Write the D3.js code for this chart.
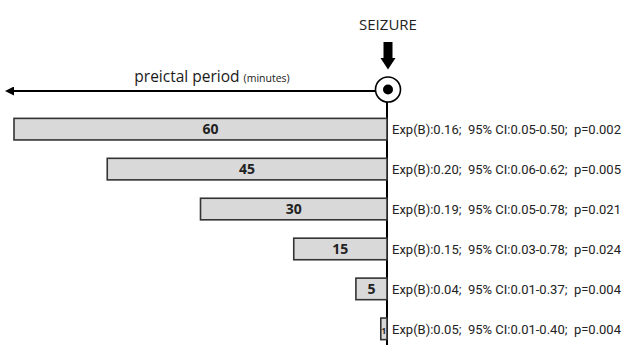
<!DOCTYPE html>
<html><head><meta charset="utf-8">
<script src="https://cdn.jsdelivr.net/npm/d3@7"></script>
<style>body{margin:0;background:#fff}svg{display:block}</style>
</head><body>
<svg id="c" width="625" height="345"></svg>
<script>
const periods = [60, 45, 30, 15, 5, 1];
const expB = ["0.16", "0.20", "0.19", "0.15", "0.04", "0.05"];
const ciLow = ["0.05", "0.06", "0.05", "0.03", "0.01", "0.01"];
const ciHigh = ["0.50", "0.62", "0.78", "0.78", "0.37", "0.40"];
const pVals = ["0.002", "0.005", "0.021", "0.024", "0.004", "0.004"];

const svg = d3.select("#c");
const x0 = 387;
const x = d3.scaleLinear().domain([0, 60]).range([x0, 14]);
const y = d3.scaleBand().domain(periods.map(String)).range([110, 348]).paddingInner(0.46).paddingOuter(0.21);

svg.append("defs").append("marker").attr("id","ah").attr("viewBox","0 0 10 10")
  .attr("refX",0).attr("refY",5).attr("markerWidth",5).attr("markerHeight",5).attr("orient","auto-start-reverse")
  .append("path").attr("d","M0,0L10,5L0,10z").attr("fill","#000");

svg.append("line").attr("x1",x0).attr("x2",14).attr("y1",91).attr("y2",91)
  .attr("stroke","#000").attr("stroke-width",1.8).attr("marker-end","url(#ah)");
const t = svg.append("text").attr("x",212).attr("y",82).attr("text-anchor","middle")
  .attr("font-family","Open Sans, sans-serif").attr("fill","#1a1a1a");
t.append("tspan").attr("font-size",15.5).text("preictal period ");
t.append("tspan").attr("font-size",10.5).text("(minutes)");

svg.append("line").attr("x1",x0).attr("x2",x0).attr("y1",90).attr("y2",345)
  .attr("stroke","#000").attr("stroke-width",2);

const g = svg.append("g");
g.selectAll("rect").data(periods).join("rect")
  .attr("x", d => x(d)).attr("y", d => y(String(d)))
  .attr("width", d => x0 - x(d)).attr("height", y.bandwidth())
  .attr("fill","#d9d9d9").attr("stroke","#333").attr("stroke-width",1.6);
g.selectAll("text.v").data(periods).join("text").attr("class","v")
  .attr("x", d => (x(d) + x0)/2 + (d===60?10:0)).attr("y", d => y(String(d)) + y.bandwidth()/2 + 5)
  .attr("text-anchor","middle").attr("font-family","Open Sans, sans-serif")
  .attr("font-weight","bold").attr("font-size", d => d===1 ? 8 : 14).attr("fill","#222")
  .text(d => d);

g.selectAll("text.s").data(periods).join("text").attr("class","s")
  .attr("x", 392).attr("y", d => y(String(d)) + y.bandwidth()/2 + 5)
  .attr("font-family","Roboto, sans-serif").attr("font-size",13).attr("fill","#222")
  .attr("xml:space","preserve").style("white-space","pre")
  .text((d,i) => `Exp(B):${expB[i]};  95% CI:${ciLow[i]}-${ciHigh[i]};  p=${pVals[i]}`);

svg.append("circle").attr("cx",x0+1).attr("cy",89.5).attr("r",12.5).attr("fill","#fff").attr("stroke","#000").attr("stroke-width",1.6);
svg.append("circle").attr("cx",x0+1).attr("cy",89.5).attr("r",5).attr("fill","#000");

svg.append("path").attr("d",`M${x0-3.5},42 L${x0+5.5},42 L${x0+5.5},58 L${x0+8.5},58 L${x0+1},69.5 L${x0-6.5},58 L${x0-3.5},58 Z`).attr("fill","#000");

svg.append("text").attr("x",x0+1).attr("y",29.5).attr("text-anchor","middle")
  .attr("font-family","Open Sans, sans-serif").attr("font-size",15).attr("fill","#222").text("SEIZURE");
</script>
</body></html>
